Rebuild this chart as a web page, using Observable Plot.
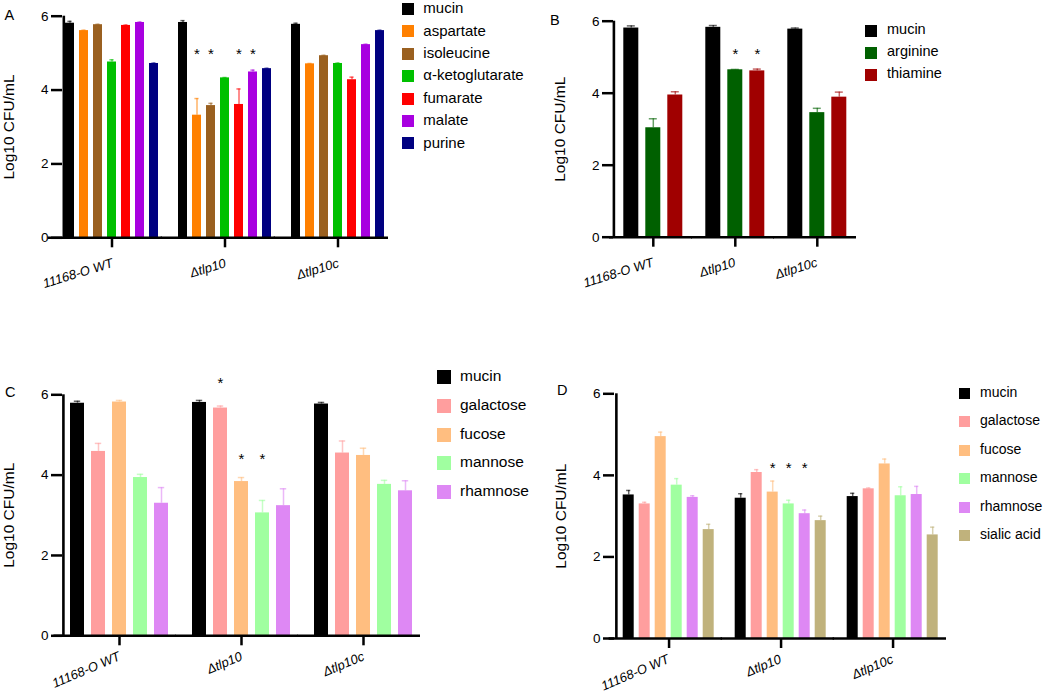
<!DOCTYPE html>
<html><head><meta charset="utf-8">
<script src="https://cdn.jsdelivr.net/npm/d3@7"></script>
<script src="https://cdn.jsdelivr.net/npm/@observablehq/plot@0.6"></script>
<style>
body{margin:0;background:#fff;}
#root{position:relative;width:1050px;height:698px;overflow:hidden;font-family:"Liberation Sans",Arial,sans-serif;color:#000;}
.panel{position:absolute;}
.panel svg{overflow:visible;}
.panel g[aria-label="y-axis label"] text{font-size:15.5px;}
.letter{position:absolute;font-size:14.5px;line-height:1;}
</style></head><body><div id="root"></div>
<script>
const groups = ["11168-O WT", "Δtlp10", "Δtlp10c"];

// Panel A
const seriesA = ["mucin","aspartate","isoleucine","α-ketoglutarate","fumarate","malate","purine"];
const colorsA = ["#000000","#ff8000","#9a6020","#00c000","#ff0000","#a800e0","#000080"];
const meansA = [
  [5.81,5.61,5.77,4.76,5.75,5.83,4.72],
  [5.83,3.32,3.58,4.33,3.61,4.49,4.58],
  [5.78,4.71,4.93,4.72,4.28,5.23,5.61]];
const errsA = [
  [0.05,0.01,0.01,0.06,0.01,0.01,0.01],
  [0.05,0.45,0.06,0.01,0.42,0.05,0.01],
  [0.03,0.01,0.01,0.01,0.07,0.01,0.01]];
const starsA = [["Δtlp10","aspartate",5.07],["Δtlp10","isoleucine",5.07],["Δtlp10","fumarate",5.07],["Δtlp10","malate",5.07]];

// Panel B
const seriesB = ["mucin","arginine","thiamine"];
const colorsB = ["#000000","#006000","#a00000"];
const meansB = [
  [5.81,3.04,3.95],
  [5.83,4.65,4.62],
  [5.78,3.46,3.89]];
const errsB = [
  [0.06,0.25,0.09],
  [0.05,0.01,0.05],
  [0.03,0.12,0.14]];
const starsB = [["Δtlp10","arginine",5.19],["Δtlp10","thiamine",5.19]];

// Panel C
const seriesC = ["mucin","galactose","fucose","mannose","rhamnose"];
const colorsC = ["#000000","#ff9e9e","#ffbe80","#a0ffa0","#de88f4"];
const meansC = [
  [5.79,4.59,5.82,3.94,3.30],
  [5.81,5.67,3.84,3.06,3.24],
  [5.77,4.55,4.49,3.77,3.61]];
const errsC = [
  [0.05,0.20,0.04,0.08,0.39],
  [0.05,0.05,0.10,0.31,0.42],
  [0.04,0.30,0.18,0.10,0.25]];
const starsC = [["Δtlp10","galactose",6.40],["Δtlp10","fucose",4.49],["Δtlp10","mannose",4.49]];

// Panel D
const seriesD = ["mucin","galactose","fucose","mannose","rhamnose","sialic acid"];
const colorsD = ["#000000","#ff9e9e","#ffbe80","#a0ffa0","#de88f4","#c0b27c"];
const meansD = [
  [3.52,3.30,4.95,3.76,3.46,2.67],
  [3.44,4.07,3.59,3.30,3.06,2.89],
  [3.48,3.67,4.28,3.50,3.53,2.54]];
const errsD = [
  [0.11,0.04,0.11,0.16,0.04,0.13],
  [0.11,0.07,0.27,0.09,0.09,0.11],
  [0.08,0.02,0.12,0.22,0.20,0.19]];
const starsD = [["Δtlp10","fucose",4.27],["Δtlp10","mannose",4.27],["Δtlp10","rhamnose",4.27]];

const yTicks = [0, 2, 4, 6];
const yLabel = "Log10 CFU/mL";

const root = document.getElementById("root");

function panel(series, colors, means, errs, stars, L) {
  const rows = [];
  groups.forEach((g, i) => series.forEach((s, j) =>
    rows.push({group: g, series: s, value: means[i][j], err: errs[i][j]})));
  const starRows = stars.map(([g, s, y]) => ({group: g, series: s, y}));
  const n = series.length;
  const range = L.w - L.ml - L.mr;
  const step = range / (groups.length - L.fxPad);
  const gap = step * L.fxPad;
  const facetW = step - gap;
  const xStep = facetW / (n - L.xIn + 2 * L.xOut);
  const bw = xStep * (1 - L.xIn);
  const offset = xStep * L.xOut;
  const mid = Math.floor((n - 1) / 2);
  const midShift = ((n - 1) / 2 - mid) * xStep;
  const firstCol = rows.filter(r => r.group === groups[0] && r.series === series[0]);
  const midCol = rows.filter(r => r.series === series[mid]);
  const yMin = yTicks[0], yMax = yTicks[yTicks.length - 1];
  const plot = Plot.plot({
    width: L.w, height: L.h,
    marginLeft: L.ml, marginRight: L.mr, marginTop: L.mt, marginBottom: L.mb,
    style: {fontFamily: "Liberation Sans, Arial, sans-serif", fontSize: "13.5px", color: "#000", background: "transparent", overflow: "visible"},
    fx: {domain: groups, paddingInner: L.fxPad, paddingOuter: 0},
    x: {domain: series, paddingInner: L.xIn, paddingOuter: L.xOut, axis: null},
    y: {domain: [yMin, yMax]},
    color: {domain: series, range: colors},
    marks: [
      Plot.barY(rows, {fx: "group", x: "series", y: "value", fill: "series"}),
      Plot.ruleX(rows, {fx: "group", x: "series", y1: "value", y2: d => d.value + d.err, stroke: "series", strokeOpacity: 0.6, strokeWidth: 1.5}),
      Plot.tickY(rows, {fx: "group", x: "series", y: d => d.value + d.err, stroke: "series", strokeOpacity: 0.6, strokeWidth: 1.5, insetLeft: L.cap, insetRight: L.cap}),
      Plot.text(starRows, {fx: "group", x: "series", y: "y", text: () => "*", fontSize: 15, dy: 4}),
      // x axis line
      Plot.ruleY([yMin], {strokeWidth: 2.5, insetLeft: -gap - 1}),
      // y axis line at the left edge of the first facet
      Plot.ruleX(firstCol, {fx: "group", x: "series", y1: yMin, y2: yMax, dx: -(offset + bw / 2), stroke: "#000", strokeWidth: 2.6}),
      // group ticks below the x axis
      Plot.ruleX(midCol, {fx: "group", x: "series", y1: yMin, y2: yMin, insetBottom: -10, dx: midShift, stroke: "#000", strokeWidth: 2.5}),
      Plot.axisY({ticks: yTicks, tickFormat: d => String(d), tickSize: 11, tickPadding: 3, strokeWidth: 2.5, fontSize: 13.5,
        label: yLabel, labelAnchor: "center", labelArrow: "none", labelOffset: 60}),
      Plot.axisFx({anchor: "bottom", tickSize: 0, tickPadding: L.tp, tickRotate: L.rot,
        fontSize: 13, fontStyle: "italic", label: null})
    ]
  });
  const wrap = document.createElement("div");
  wrap.className = "panel";
  wrap.style.left = L.left + "px";
  wrap.style.top = L.top + "px";
  wrap.append(plot);
  root.append(wrap);
}

function legend(series, colors, G) {
  series.forEach((s, i) => {
    const cy = G.y + i * G.dy;
    const sw = document.createElement("div");
    sw.style.cssText = `position:absolute;left:${G.x}px;top:${cy - G.sq / 2}px;width:${G.sq}px;height:${G.sq}px;background:${colors[i]};`;
    const t = document.createElement("div");
    t.textContent = s;
    t.style.cssText = `position:absolute;left:${G.tx}px;top:${cy - 0.586 * G.fs}px;font-size:${G.fs}px;line-height:1;white-space:nowrap;`;
    root.append(sw, t);
  });
}

function letter(ch, x, y) {
  const d = document.createElement("div");
  d.className = "letter";
  d.textContent = ch;
  d.style.left = x + "px";
  d.style.top = y + "px";
  root.append(d);
}

panel(seriesA, colorsA, meansA, errsA, starsA,
  {left: 0, top: 0, w: 400, h: 300, ml: 62, mr: 12.3, mt: 15.7, mb: 62.7,
   fxPad: 0.118, xIn: 0.33, xOut: 0.09, cap: 2.4, rot: -17, tp: 25});
panel(seriesB, colorsB, meansB, errsB, starsB,
  {left: 550, top: 0, w: 320, h: 300, ml: 61.7, mr: 12.9, mt: 20.7, mb: 63.3,
   fxPad: 0.036, xIn: 0.333, xOut: 0.44, cap: 3.5, rot: -17, tp: 25});
panel(seriesC, colorsC, meansC, errsC, starsC,
  {left: 0, top: 350, w: 430, h: 348, ml: 61, mr: 9.1, mt: 44.3, mb: 62.7,
   fxPad: 0.062, xIn: 0.32, xOut: 0.31, cap: 3.8, rot: -23, tp: 20});
panel(seriesD, colorsD, meansD, errsD, starsD,
  {left: 550, top: 350, w: 400, h: 348, ml: 63.3, mr: 3, mt: 43.3, mb: 60,
   fxPad: 0.039, xIn: 0.325, xOut: 0.40, cap: 3.4, rot: -23, tp: 20});

legend(seriesA, colorsA, {x: 401.7, sq: 12, y: 9, dy: 22.4, tx: 423.3, fs: 15});
legend(seriesB, colorsB, {x: 865, sq: 12, y: 30.5, dy: 22, tx: 887, fs: 14.5});
legend(seriesC, colorsC, {x: 437, sq: 14, y: 377, dy: 28.8, tx: 460, fs: 15.5});
legend(seriesD, colorsD, {x: 959.3, sq: 11, y: 393, dy: 28.5, tx: 980, fs: 14});

letter("A", 4.5, 8);
letter("B", 550, 13);
letter("C", 5, 385);
letter("D", 557, 383);
</script></body></html>
